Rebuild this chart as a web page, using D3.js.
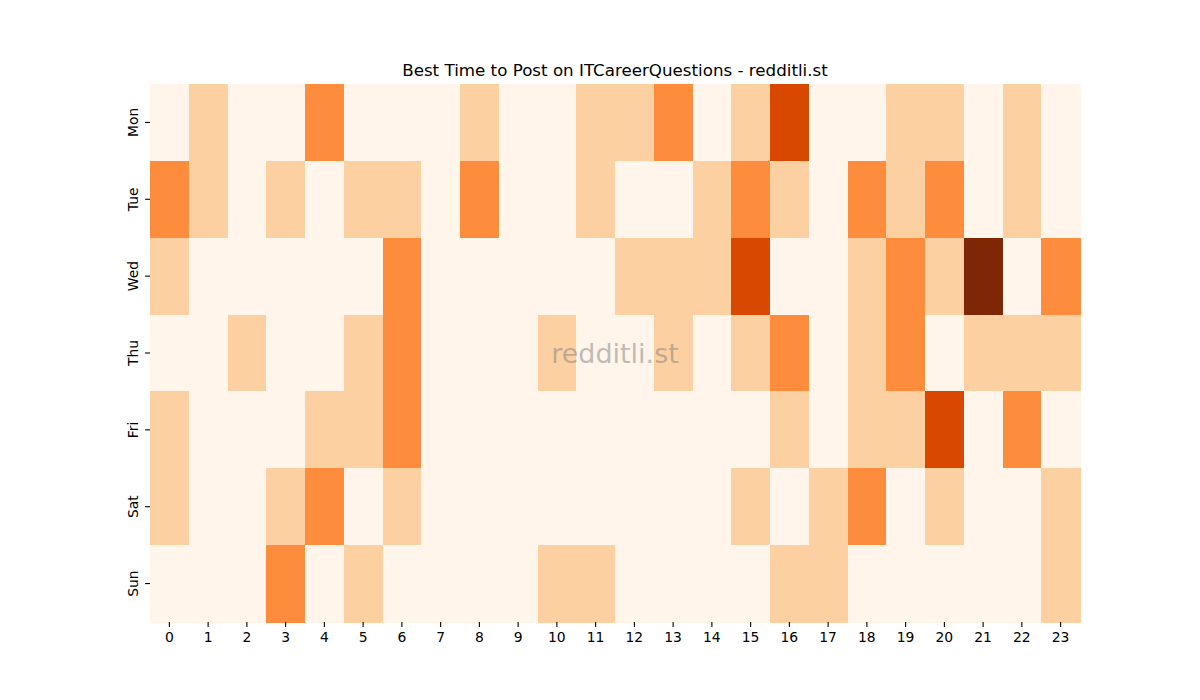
<!DOCTYPE html>
<html>
<head>
<meta charset="utf-8">
<script src="https://cdn.jsdelivr.net/npm/d3@7"></script>
<style>
  body { margin: 0; background: #fff; }
  text { font-family: "DejaVu Sans", sans-serif; }
</style>
</head>
<body>
<div id="chart"></div>
<script>
// weekday rows, hour columns, post-score per cell
const days = ["Mon", "Tue", "Wed", "Thu", "Fri", "Sat", "Sun"];
const hours = d3.range(24).map(String);

const mon = [0,1,0,0,2,0,0,0,1,0,0,1,1,2,0,1,3,0,0,1,1,0,1,0];
const tue = [2,1,0,1,0,1,1,0,2,0,0,1,0,0,1,2,1,0,2,1,2,0,1,0];
const wed = [1,0,0,0,0,0,2,0,0,0,0,0,1,1,1,3,0,0,1,2,1,4,0,2];
const thu = [0,0,1,0,0,1,2,0,0,0,1,0,0,1,0,1,2,0,1,2,0,1,1,1];
const fri = [1,0,0,0,1,1,2,0,0,0,0,0,0,0,0,0,1,0,1,1,3,0,2,0];
const sat = [1,0,0,1,2,0,1,0,0,0,0,0,0,0,0,1,0,1,2,0,1,0,0,1];
const sun = [0,0,0,2,0,1,0,0,0,0,1,1,0,0,0,0,1,1,0,0,0,0,0,1];

const rows = [mon, tue, wed, thu, fri, sat, sun];

// matplotlib "Oranges"
const oranges = ["#fff5eb","#fee6ce","#fdd0a2","#fdae6b","#fd8d3c","#f16913","#d94801","#a63603","#7f2704"];

const W = 1200, H = 700;
const margin = {top: 84, right: 120, bottom: 78, left: 150};

const svg = d3.select("#chart").append("svg")
    .attr("width", W)
    .attr("height", H);

const x = d3.scaleBand().domain(hours).range([margin.left, W - margin.right]);
const y = d3.scaleBand().domain(days).range([margin.top, H - margin.bottom]);

const vmax = d3.max(rows.flat());
const color = d3.scaleLinear()
    .domain(oranges.map((c, i) => i * vmax / (oranges.length - 1)))
    .range(oranges)
    .interpolate(d3.interpolateRgb);

const cells = [];
rows.forEach((r, i) => r.forEach((v, j) => cells.push({day: days[i], hour: hours[j], v})));

svg.append("g")
  .selectAll("rect")
  .data(cells)
  .join("rect")
    .attr("x", d => x(d.hour))
    .attr("y", d => y(d.day))
    .attr("width", x.bandwidth() + 0.5)
    .attr("height", y.bandwidth() + 0.5)
    .attr("fill", d => color(d.v))
    .attr("shape-rendering", "crispEdges");

// axes
const xAxis = svg.append("g")
    .attr("transform", `translate(0,${H - margin.bottom})`)
    .call(d3.axisBottom(x).tickSize(4.9).tickPadding(5));
xAxis.select(".domain").remove();
xAxis.selectAll("text").style("font-size", "13.9px").attr("fill", "#000");
xAxis.selectAll("line").attr("stroke", "#000").attr("stroke-width", 1.1);

const yAxis = svg.append("g")
    .attr("transform", `translate(${margin.left},0)`)
    .call(d3.axisLeft(y).tickSize(4.9).tickPadding(5));
yAxis.select(".domain").remove();
yAxis.selectAll("line").attr("stroke", "#000").attr("stroke-width", 1.1);
yAxis.selectAll("text")
    .style("font-size", "13.9px")
    .attr("fill", "#000")
    .attr("text-anchor", "middle")
    .attr("dy", null)
    .attr("x", null)
    .attr("transform", "translate(-12,0) rotate(-90)");

// title
svg.append("text")
    .attr("x", (margin.left + W - margin.right) / 2)
    .attr("y", margin.top - 8)
    .attr("text-anchor", "middle")
    .style("font-size", "16.7px")
    .text("Best Time to Post on ITCareerQuestions - redditli.st");

// watermark
svg.append("text")
    .attr("x", (margin.left + W - margin.right) / 2)
    .attr("y", (margin.top + H - margin.bottom) / 2 + 10)
    .attr("text-anchor", "middle")
    .attr("fill", "gray")
    .attr("fill-opacity", 0.5)
    .style("font-size", "27px")
    .text("redditli.st");
</script>
</body>
</html>
